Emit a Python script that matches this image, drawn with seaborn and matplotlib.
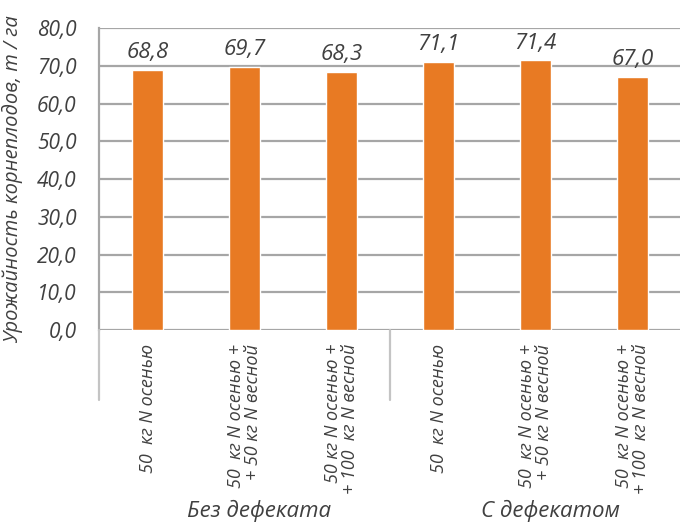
import matplotlib
matplotlib.use("Agg")
import matplotlib.pyplot as plt
import matplotlib.transforms as mtransforms
from matplotlib.lines import Line2D
from matplotlib.ticker import FuncFormatter
import pandas as pd
import seaborn as sns

# Data
groups = ["Без дефеката", "С дефекатом"]
variants = [
    "50  кг N осенью",
    "50  кг N осенью +\n+ 50 кг N весной",
    "50 кг N осенью +\n+ 100  кг N весной",
    "50  кг N осенью",
    "50  кг N осенью +\n+ 50 кг N весной",
    "50  кг N осенью +\n+ 100  кг N весной",
]
group_of = [0, 0, 0, 1, 1, 1]
yields = [68.8, 69.7, 68.3, 71.1, 71.4, 67.0]
y_ticks = [0, 10, 20, 30, 40, 50, 60, 70, 80]

BAR = "#E87A23"
GRID = "#A6A6A6"
SEP = "#C4C4C4"
TXT = "#404040"


def comma(v, pos=None):
    return f"{v:.1f}".replace(".", ",")


sns.set_theme(style="white")
plt.rcParams["font.family"] = ["Open Sans", "DejaVu Sans"]
plt.rcParams["font.style"] = "italic"

df = pd.DataFrame({"slot": [str(i) for i in range(len(variants))], "yield": yields})

fig = plt.figure(figsize=(6.8, 5.23), dpi=100)
ax = fig.add_axes([0.1456, 0.369, 0.856, 0.5774])

sns.barplot(data=df, x="slot", y="yield", color=BAR, width=0.32, saturation=1,
            ax=ax, zorder=3)

ax.set_ylim(y_ticks[0], y_ticks[-1])
ax.set_xlim(-0.5, len(variants) - 0.5)
ax.set_yticks(y_ticks)
ax.yaxis.set_major_formatter(FuncFormatter(comma))
ax.yaxis.grid(True, color=GRID, lw=1.6)
ax.set_axisbelow(True)
for s in ["top", "right", "bottom"]:
    ax.spines[s].set_visible(False)
ax.spines["left"].set_color(GRID)
ax.spines["left"].set_linewidth(1.6)

ax.tick_params(axis="y", length=0, pad=16, labelsize=15, labelcolor=TXT)
ax.tick_params(axis="x", length=0, pad=10, labelsize=13, labelcolor=TXT)
ax.set_xticks(range(len(variants)))
ax.set_xticklabels(variants, rotation=90, va="top", ha="center",
                   multialignment="right", linespacing=0.95)

ax.set_xlabel("")
ax.set_ylabel("Урожайность корнеплодов, т / га", fontsize=14.5, color=TXT, labelpad=10)

# value labels
for i, v in enumerate(yields):
    ax.annotate(comma(v), (i, v), xytext=(0, 5), textcoords="offset points",
                ha="center", va="bottom", fontsize=16, color=TXT)

# group separators and group names below the axis
trans = mtransforms.blended_transform_factory(ax.transData, fig.transFigure)
bounds = [-0.5] + [i + 0.5 for i in range(len(group_of) - 1) if group_of[i] != group_of[i + 1]]
for b in bounds:
    fig.add_artist(Line2D([b, b], [0.369, 0.235], transform=trans, color=SEP, lw=1.6))

for g, name in enumerate(groups):
    idx = [i for i, k in enumerate(group_of) if k == g]
    center = (idx[0] + idx[-1]) / 2 + 0.15
    ax.text(center, 0.002, name, transform=trans, ha="center", va="bottom",
            fontsize=16, color=TXT)

fig.savefig("out.png", dpi=100)
